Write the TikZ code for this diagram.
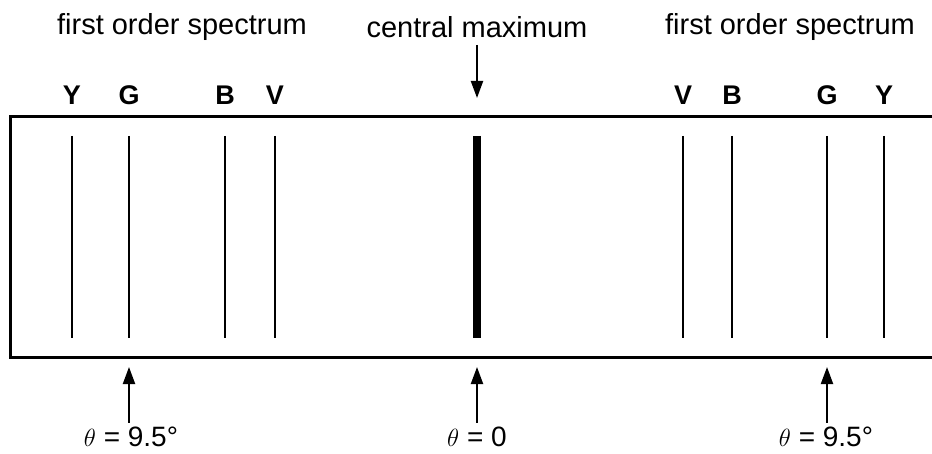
\documentclass[tikz,border=0pt]{standalone}
\usepackage{fontspec}
\setmainfont{Liberation Sans}
\usetikzlibrary{arrows.meta, positioning}
\definecolor{lineBlack}{HTML}{000000}

\tikzset{
  title/.style={font=\fontsize{29}{32}\selectfont, inner sep=0pt},
  colour/.style={font=\fontsize{27}{30}\bfseries\selectfont, inner sep=0pt},
  angle/.style={font=\fontsize{28}{30}\selectfont, inner sep=0pt},
  pointer/.style={-{Triangle[length=17pt, width=12pt]}, line width=2pt},
  specline/.style={line width=2.6pt},
}

\begin{document}
\begin{tikzpicture}[x=1pt, y=-1pt]
    \useasboundingbox (0,0) rectangle (932,454);
    % screen: open on the right
    \draw[line width=3pt] (932,117) -- (10,117) -- (10,358) -- (932,358);
    % headings
    \node[title] (specL) at (182,27) {first order spectrum};
    \node[title] (central) at (477,27) {central maximum};
    \node[title] (specR) at (790,27) {first order spectrum};
    % colour letters
    \foreach \x/\c/\n in {72/Y/yl, 129/G/gl, 225/B/bl, 275/V/vl,
                          683/V/vr, 732/B/br, 827/G/gr, 884/Y/yr}
      \node[colour] (\n) at (\x,95) {\c};
    % spectral lines
    \foreach \x in {72, 129, 225, 275, 683, 732, 827, 884}
      \draw[specline] (\x,136) -- (\x,338);
    \draw[line width=7.5pt] (477,136) -- (477,338);
    % arrows
    \coordinate (tipC) at (477,98);
    \draw[pointer] (central.south) ++(0,7) -- (tipC);
    \node[angle] (thL) at (131,437) {$\theta$ = 9.5°};
    \node[angle] (thC) at (477,437) {$\theta$ = 0};
    \node[angle] (thR) at (826,437) {$\theta$ = 9.5°};
    \coordinate (tipL) at (129,367);
    \coordinate (tipM) at (477,367);
    \coordinate (tipR) at (827,367);
    \draw[pointer] (thL.north -| tipL) ++(0,-4) -- (tipL);
    \draw[pointer] (thC.north -| tipM) ++(0,-4) -- (tipM);
    \draw[pointer] (thR.north -| tipR) ++(0,-4) -- (tipR);
\end{tikzpicture}
\end{document}
